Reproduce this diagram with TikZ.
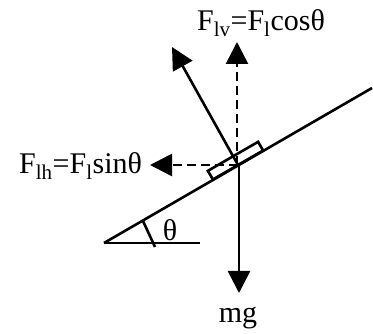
\documentclass[tikz,border=0pt]{standalone}
\usepackage{fontspec}
\setmainfont{Liberation Serif}
\usetikzlibrary{arrows.meta}
\begin{document}
\begin{tikzpicture}[x=1pt,y=-1pt,line width=2.6pt,
  every node/.style={font=\fontsize{30}{36}\selectfont, inner sep=0pt, outer sep=0pt},
  force/.style={-{Triangle[length=22pt,width=22pt]}},
  comp/.style={force,dash pattern=on 9pt off 5pt}]
\useasboundingbox (0,0) rectangle (373,334);
\coordinate (base) at (104,243);
\coordinate (top) at (372,88);
\coordinate (flat) at (200,243);
\coordinate (O) at (238,165);
\draw (base) -- (top);
\draw (base) -- (flat);
\draw (143,221) -- (155,247);
\node[draw,rotate=30,minimum width=58pt,minimum height=10pt,anchor=south] (block) at (O) {};
\coordinate (lift) at (172,47);
\coordinate (liftv) at (237,42);
\coordinate (lifth) at (150,165);
\coordinate (weight) at (239,293);
\draw[force] (O) -- (lift);
\draw[comp] (O -| liftv) -- (liftv);
\draw[comp] (O) -- (lifth);
\draw[force] (O -| weight) -- (weight);
\node (lv) at (261,23) {F\textsubscript{lv}=F\textsubscript{l}cosθ};
\node[anchor=east] (lh) at (142,166) {F\textsubscript{lh}=F\textsubscript{l}sinθ};
\node (mg) at (238,318) {mg};
\node (th) at (170,230) {θ};
\end{tikzpicture}
\end{document}
